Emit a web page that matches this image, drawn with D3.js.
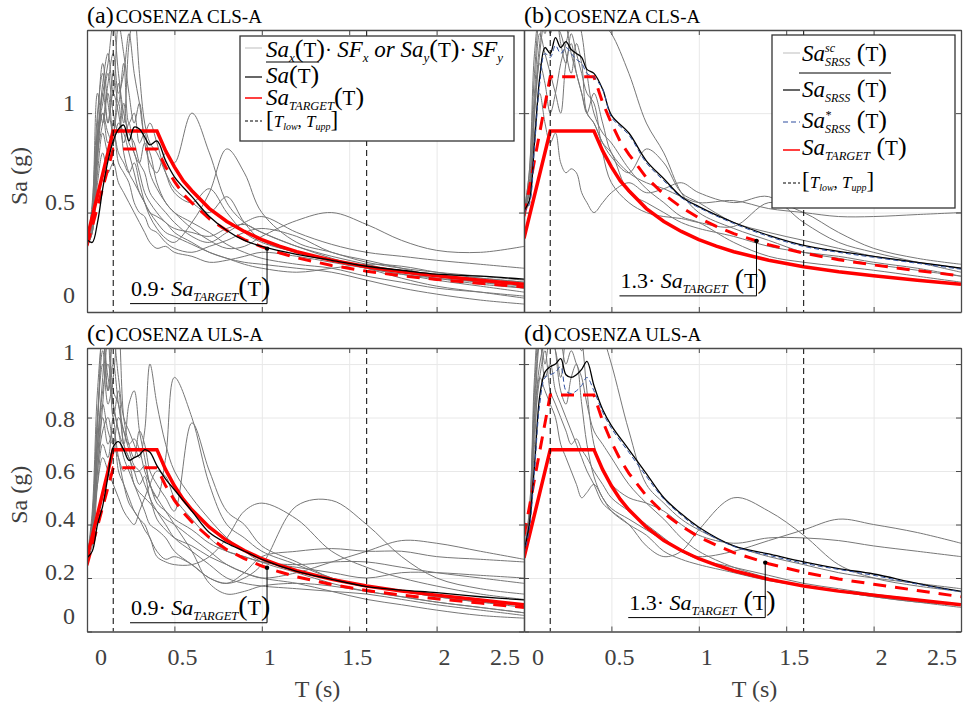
<!DOCTYPE html>
<html>
<head>
<meta charset="utf-8">
<script src="https://cdn.jsdelivr.net/npm/d3@7"></script>
<style>
body { margin: 0; background: #fff; }
text { font-family: "Liberation Serif", "Times New Roman", serif; white-space: pre; }
</style>
</head>
<body>
<script>
var width = 965, height = 707;

var periods = [0, .03, .06, .09, .12, .15, .18, .21, .24, .27, .30, .33, .36, .40, .45, .50,
  .60, .70, .80, .90, 1.0, 1.2, 1.4, 1.6, 1.8, 2.0, 2.25, 2.5];

// code target spectra (g)
var targetT   = [0, .15, .40, .45, .50, .55, .60, .70, .80, .90, 1.0, 1.1, 1.2, 1.4, 1.6, 1.8, 2.0, 2.25, 2.5];
var targetCLS = [.37, .91, .91, .81, .73, .66, .61, .52, .455, .405, .364, .331, .303, .26, .228, .202, .182, .16, .14];
var targetULS = [.275, .68, .68, .605, .545, .495, .455, .39, .34, .303, .272, .248, .227, .195, .17, .151, .136, .118, .10];

// period range [T_low, T_upp]
var tRange = [0.15, 1.6];

// (a) scaled single components, CLS
var greyA = [
  [.33,.40,.75,1.10,.95,1.20,1.05,1.25,.95,1.00,.85,.90,.70,.62,.55,.50,.45,.40,.34,.30,.27,.24,.22,.18,.15,.12,.10,.08],
  [.33,.45,.95,1.25,1.05,.90,1.15,.95,1.35,1.50,1.20,.95,.85,.80,.70,.62,.55,.50,.58,.45,.36,.30,.26,.22,.19,.16,.13,.10],
  [.33,.50,.85,1.15,1.30,1.10,1.45,1.30,1.10,.95,1.05,.85,.75,.70,.80,.75,1.00,.80,.55,.45,.40,.33,.28,.24,.20,.17,.14,.12],
  [.33,.42,.70,.90,.80,.95,.75,.70,.65,.55,.50,.48,.42,.40,.35,.32,.30,.33,.36,.40,.42,.38,.30,.26,.22,.18,.15,.12],
  [.33,.48,.90,1.05,1.20,1.00,.90,1.05,.85,.80,.70,.60,.55,.50,.45,.42,.40,.38,.42,.44,.40,.33,.27,.22,.17,.13,.10,.07],
  [.33,.55,1.00,1.20,.95,1.10,1.00,.85,.95,.80,.75,.85,.80,.65,.55,.50,.42,.36,.32,.33,.38,.46,.50,.44,.36,.31,.30,.33],
  [.33,.40,.80,.95,1.10,.90,1.05,.80,.70,.65,.60,.55,.50,.45,.40,.38,.34,.30,.27,.24,.22,.20,.22,.24,.23,.20,.17,.15],
  [.33,.45,.85,1.00,.85,.90,.80,.75,.70,.75,.65,.55,.48,.42,.37,.35,.45,.60,.82,.70,.50,.35,.30,.25,.22,.20,.18,.16],
  [.33,.52,1.10,.95,1.15,1.30,1.10,1.20,1.40,1.20,1.05,.90,.95,.85,.70,.60,.55,.62,.50,.40,.35,.30,.26,.22,.19,.17,.15,.13],
  [.33,.40,.65,.80,.70,.75,.65,.60,.55,.50,.45,.40,.35,.32,.33,.30,.28,.25,.26,.28,.30,.28,.25,.22,.20,.18,.17,.15],
  [.33,.50,.90,1.10,1.25,1.45,1.20,1.00,.90,.85,.75,.70,.60,.55,.50,.45,.38,.35,.40,.45,.48,.40,.34,.30,.28,.26,.24,.22],
  [.33,.44,.80,1.00,.90,.85,.95,.90,.80,.70,.60,.55,.50,.48,.45,.40,.35,.30,.27,.25,.24,.22,.20,.16,.12,.09,.06,.04]
];
var meanA = [.364,.35,.45,.62,.76,.86,.92,.94,.86,.93,.92,.88,.84,.86,.76,.68,.58,.48,.41,.36,.33,.29,.26,.23,.21,.19,.18,.165];

// (b) scaled SRSS spectra, CLS
var greyB = [
  [.50,.70,1.20,1.50,1.60,1.40,1.50,1.55,1.45,1.30,1.20,1.10,1.00,1.10,.95,.80,.70,.65,.62,.58,.55,.56,.52,.50,.48,.48,.49,.50],
  [.50,.60,1.00,1.30,1.50,1.60,1.55,1.50,1.60,1.70,1.65,1.60,1.55,1.50,1.45,1.40,1.20,.95,.80,.60,.50,.42,.36,.30,.27,.24,.21,.18],
  [.50,.65,1.10,1.40,1.30,1.20,1.10,1.00,1.25,1.35,1.20,1.10,1.00,.95,.85,.78,.70,.82,.75,.60,.55,.45,.40,.36,.32,.28,.25,.22],
  [.50,.55,.90,1.10,.95,.85,.90,.75,.70,.72,.70,.60,.55,.50,.55,.60,.65,.60,.62,.65,.60,.55,.58,.45,.35,.30,.25,.20],
  [.50,.70,1.30,1.50,1.40,1.55,1.45,1.40,1.30,1.20,1.35,1.25,1.00,.95,.85,.80,.60,.55,.50,.45,.42,.38,.33,.30,.28,.25,.22,.18],
  [.50,.60,1.00,1.25,1.15,1.00,1.10,1.25,1.35,1.45,1.50,1.40,1.20,1.00,.90,.85,.72,.62,.55,.48,.45,.35,.28,.25,.23,.21,.18,.15],
  [.50,.62,1.05,1.35,1.55,1.45,1.50,1.35,1.25,1.40,1.30,1.20,1.10,1.05,.80,.65,.55,.50,.48,.47,.45,.43,.55,.50,.40,.32,.27,.24]
];
var meanB = [.51,.56,.85,1.18,1.33,1.30,1.38,1.33,1.36,1.32,1.30,1.28,1.22,1.20,1.12,.99,.90,.76,.67,.58,.53,.45,.385,.335,.305,.28,.25,.22];
var starB = [.50,.54,.83,1.15,1.30,1.28,1.34,1.30,1.33,1.30,1.27,1.25,1.20,1.18,1.12,.98,.89,.75,.66,.575,.525,.445,.38,.33,.30,.275,.245,.215];

// (c) scaled single components, ULS
var greyC = [
  [.27,.35,.60,.85,1.10,.80,.90,.70,.65,.60,.55,.58,.50,.45,.40,.35,.30,.25,.20,.18,.17,.16,.15,.14,.12,.10,.08,.06],
  [.27,.40,.75,1.15,.90,1.10,.95,.80,.75,.70,.65,.75,1.00,.85,.70,.60,.50,.42,.35,.30,.26,.22,.18,.15,.13,.11,.09,.07],
  [.27,.32,.55,.70,.65,.80,.60,.55,.50,.45,.42,.40,.35,.30,.27,.28,.25,.20,.18,.22,.28,.30,.31,.30,.30,.28,.27,.26],
  [.27,.38,.70,.95,1.20,.90,.85,.70,.65,.60,.60,.62,.55,.50,.65,.95,.80,.55,.40,.35,.30,.25,.20,.17,.15,.13,.11,.09],
  [.27,.42,.80,1.00,.85,.95,1.15,.80,.70,.65,.75,.70,.60,.55,.50,.45,.78,.60,.45,.40,.32,.26,.20,.17,.15,.13,.11,.10],
  [.27,.35,.65,.80,.70,.75,.65,.55,.48,.45,.42,.38,.35,.28,.26,.25,.25,.28,.35,.45,.48,.42,.30,.24,.20,.17,.14,.12],
  [.27,.40,.70,.90,1.00,.85,.75,.65,.60,.55,.50,.45,.40,.38,.35,.30,.25,.20,.18,.20,.25,.47,.49,.40,.28,.20,.16,.14],
  [.27,.36,.60,.75,.80,.70,.65,.60,.62,.55,.52,.50,.48,.45,.42,.40,.35,.30,.25,.22,.20,.22,.26,.30,.34,.33,.30,.27],
  [.27,.45,.90,1.10,.95,.85,.75,.70,.85,.90,.75,.65,.55,.50,.45,.40,.30,.18,.14,.15,.17,.18,.17,.15,.13,.11,.09,.07],
  [.27,.38,.65,.85,.75,.70,.80,.75,.70,.72,.68,.60,.55,.48,.45,.42,.38,.33,.30,.28,.26,.25,.26,.26,.24,.22,.20,.18],
  [.27,.42,.80,1.05,.90,1.00,.85,.75,.68,.62,.60,.55,.50,.42,.38,.35,.32,.28,.25,.22,.20,.18,.15,.12,.10,.08,.06,.05],
  [.27,.36,.55,.65,.60,.55,.50,.45,.42,.40,.45,.50,.55,.60,.58,.50,.42,.35,.30,.28,.26,.24,.22,.20,.22,.22,.21,.20]
];
var meanC = [.275,.30,.40,.47,.58,.69,.71,.68,.64,.65,.66,.68,.67,.62,.57,.53,.45,.37,.33,.30,.27,.225,.195,.168,.155,.145,.13,.118];

// (d) scaled SRSS spectra, ULS
var greyD = [
  [.30,.40,.80,1.10,1.20,1.15,1.10,1.20,1.25,1.15,1.10,1.05,1.10,1.15,1.10,1.00,.75,.55,.48,.42,.38,.32,.28,.25,.22,.20,.18,.16],
  [.30,.45,.85,1.10,.95,1.00,.90,.85,.80,.75,.70,.65,.60,.55,.48,.45,.40,.32,.28,.30,.38,.50,.45,.36,.25,.20,.17,.15],
  [.30,.40,.75,.95,1.05,.90,.85,.80,.75,.70,.72,.68,.65,.60,.55,.50,.45,.40,.35,.30,.28,.30,.34,.38,.42,.40,.37,.33],
  [.30,.42,.90,1.15,1.00,1.10,1.05,.95,1.10,1.15,1.20,1.10,.90,.70,.60,.55,.50,.48,.45,.40,.36,.33,.35,.35,.34,.32,.30,.28],
  [.30,.38,.70,.95,.90,.85,.80,.70,.65,.60,.55,.50,.52,.55,.50,.45,.40,.36,.30,.27,.25,.22,.19,.17,.15,.13,.11,.09],
  [.30,.44,.95,1.20,1.10,1.15,1.20,1.10,1.00,1.05,1.00,.95,.85,.75,.70,.65,.55,.48,.42,.35,.30,.24,.20,.17,.15,.13,.11,.10],
  [.30,.40,.80,1.00,1.10,1.20,1.05,.90,.85,.95,1.00,.85,.70,.58,.50,.46,.42,.38,.34,.30,.27,.24,.21,.18,.16,.14,.12,.10]
];
var meanD = [.30,.40,.62,.88,.97,.99,1.0,1.02,.96,.95,.96,.98,1.01,.92,.83,.77,.68,.59,.50,.44,.39,.32,.29,.26,.235,.215,.18,.15];
var starD = [.29,.38,.60,.85,.95,.96,.97,.99,.90,.89,.90,.92,.95,.90,.82,.76,.67,.58,.495,.435,.385,.318,.285,.255,.232,.21,.177,.148];

var xTicks = [0, 0.5, 1, 1.5, 2, 2.5];
var yTicksTop = [0, 0.5, 1];
var yTicksBottom = [0, 0.2, 0.4, 0.6, 0.8, 1];

var panels = [
  { key: 'a', title: 'COSENZA CLS-A', grey: greyA, mean: meanA, star: null, target: targetCLS, factor: 0.9, callT: 1.03,
    x0: 87, x1: 524, y0: 30, y1: 312, yMax: 1.418, yTicks: yTicksTop, left: true, bottom: false },
  { key: 'b', title: 'COSENZA CLS-A', grey: greyB, mean: meanB, star: starB, target: targetCLS, factor: 1.3, callT: 1.33,
    x0: 524, x1: 961, y0: 30, y1: 312, yMax: 1.418, yTicks: yTicksTop, left: false, bottom: false },
  { key: 'c', title: 'COSENZA ULS-A', grey: greyC, mean: meanC, star: null, target: targetULS, factor: 0.9, callT: 1.03,
    x0: 87, x1: 524, y0: 348, y1: 631.5, yMax: 1.06, yTicks: yTicksBottom, left: true, bottom: true },
  { key: 'd', title: 'COSENZA ULS-A', grey: greyD, mean: meanD, star: starD, target: targetULS, factor: 1.3, callT: 1.38,
    x0: 524, x1: 961, y0: 348, y1: 631.5, yMax: 1.06, yTicks: yTicksBottom, left: false, bottom: true }
];

// small nudges of tick labels, as placed in the original figure
var yLabelShift = { top: { 0: -9, 0.5: -3, 1: -2 }, bottom: { 0: -8, 0.2: 2, 0.4: 2, 0.6: 8, 0.8: 9, 1: -4 } };
function xLabelShift(v) { return v === 0 ? 14 : (v === 2.5 ? -19 : 8); }

var axisColor = '#4a4a4a', labelColor = '#404040';

var svg = d3.select('body').append('svg')
    .attr('width', width)
    .attr('height', height)
    .attr('font-family', '"Liberation Serif", "Times New Roman", serif');

// text made of pieces: [string, italic, size, baseline shift, 'back' to stack under previous piece]
function richText(sel, x, y, segs) {
  var t = sel.append('text').attr('x', x).attr('y', y).attr('fill', '#000');
  var cur = 0, prev = null;
  segs.forEach(function(s) {
    var shift = s[3] || 0;
    var ts = t.append('tspan')
      .attr('dy', shift - cur)
      .style('font-style', s[1] ? 'italic' : 'normal')
      .style('font-size', s[2] + 'px')
      .text(s[0]);
    if (s[4] === 'back' && prev) ts.attr('dx', -prev.node().getComputedTextLength());
    cur = shift;
    prev = ts;
  });
  return t;
}

var defs = svg.append('defs');

panels.forEach(function(p) {
  var x = d3.scaleLinear().domain([0, 2.5]).range([p.x0, p.x1]);
  var y = d3.scaleLinear().domain([0, p.yMax]).range([p.y1, p.y0]);
  var g = svg.append('g').attr('class', 'panel-' + p.key);

  // light grid
  g.append('g')
    .attr('class', 'grid')
    .attr('transform', 'translate(0,' + p.y1 + ')')
    .call(d3.axisBottom(x).tickValues(xTicks).tickSize(-(p.y1 - p.y0)).tickFormat(''));
  g.append('g')
    .attr('class', 'grid')
    .attr('transform', 'translate(' + p.x0 + ',0)')
    .call(d3.axisLeft(y).tickValues(p.yTicks).tickSize(-(p.x1 - p.x0)).tickFormat(''));
  g.selectAll('.grid .domain').remove();
  g.selectAll('.grid line').attr('stroke', '#e8e8e8');

  defs.append('clipPath').attr('id', 'clip-' + p.key)
    .append('rect')
      .attr('x', p.x0).attr('y', p.y0)
      .attr('width', p.x1 - p.x0).attr('height', p.y1 - p.y0);

  var plot = g.append('g').attr('clip-path', 'url(#clip-' + p.key + ')');

  var smooth = d3.line()
    .x(function(d) { return x(d[0]); })
    .y(function(d) { return y(d[1]); })
    .curve(d3.curveCatmullRom.alpha(0.5));
  var straight = d3.line()
    .x(function(d) { return x(d[0]); })
    .y(function(d) { return y(d[1]); });

  // individual records
  plot.selectAll('.rec')
    .data(p.grey)
    .enter().append('path')
      .attr('class', 'rec')
      .attr('d', function(s) { return smooth(d3.zip(periods, s)); })
      .attr('fill', 'none')
      .attr('stroke', '#777')
      .attr('stroke-width', 1);

  // target and scaled target
  var tgt = d3.zip(targetT, p.target);
  plot.append('path')
    .attr('d', straight(tgt.map(function(d) { return [d[0], d[1] * p.factor]; })))
    .attr('fill', 'none').attr('stroke', '#ff0000').attr('stroke-width', 3)
    .attr('stroke-dasharray', '13,9');
  plot.append('path')
    .attr('d', straight(tgt))
    .attr('fill', 'none').attr('stroke', '#ff0000').attr('stroke-width', 3.5);

  // mean spectrum
  plot.append('path')
    .attr('d', smooth(d3.zip(periods, p.mean)))
    .attr('fill', 'none').attr('stroke', '#000').attr('stroke-width', 1.3);
  if (p.star) {
    plot.append('path')
      .attr('d', smooth(d3.zip(periods, p.star)))
      .attr('fill', 'none').attr('stroke', '#2f4f9f').attr('stroke-width', 1)
      .attr('stroke-dasharray', '5,3');
  }

  // period range
  g.selectAll('.trange')
    .data(tRange)
    .enter().append('line')
      .attr('class', 'trange')
      .attr('x1', function(d) { return x(d); }).attr('x2', function(d) { return x(d); })
      .attr('y1', p.y0).attr('y2', p.y1)
      .attr('stroke', '#000').attr('stroke-width', 1)
      .attr('stroke-dasharray', '6,4');

  // box and inward ticks on every side
  var box = g.append('g').attr('class', 'box');
  box.append('g').attr('transform', 'translate(0,' + p.y1 + ')')
    .call(d3.axisBottom(x).tickValues(xTicks).tickSize(-5).tickSizeOuter(0).tickFormat(''));
  box.append('g').attr('transform', 'translate(0,' + p.y0 + ')')
    .call(d3.axisTop(x).tickValues(xTicks).tickSize(-5).tickSizeOuter(0).tickFormat(''));
  box.append('g').attr('transform', 'translate(' + p.x0 + ',0)')
    .call(d3.axisLeft(y).tickValues(p.yTicks).tickSize(-5).tickSizeOuter(0).tickFormat(''));
  box.append('g').attr('transform', 'translate(' + p.x1 + ',0)')
    .call(d3.axisRight(y).tickValues(p.yTicks).tickSize(-5).tickSizeOuter(0).tickFormat(''));
  box.selectAll('.domain, line').attr('stroke', axisColor);
  box.selectAll('.domain').attr('stroke-width', 1.3);

  // callout to the scaled target
  var tgtScale = d3.scaleLinear().domain(targetT).range(p.target);
  var cx = x(p.callT), cy = y(tgtScale(p.callT) * p.factor);
  g.append('path')
    .attr('d', 'M' + (cx - 137) + ',' + (cy + 55) + 'H' + cx + 'V' + cy)
    .attr('fill', 'none').attr('stroke', '#000').attr('stroke-width', 1);
  g.append('circle').attr('cx', cx).attr('cy', cy).attr('r', 2.2).attr('fill', '#000');
  var small = p.factor === 0.9;
  richText(g, cx - 136, cy + 47, [
    [small ? '0.9· ' : '1.3·', 0, 22], [(small ? '' : ' ') + 'Sa', 1, 22], ['TARGET', 1, 12.5, 5],
    [small ? '(' : ' (', 0, 28], ['T', 0, 22], [')', 0, 28]
  ]);

  // title
  var tt = g.append('text').attr('x', p.x0).attr('y', p.y0 - 7).attr('fill', '#000');
  tt.append('tspan').style('font-size', '24px').text('(' + p.key + ')');
  tt.append('tspan').attr('dx', 2).style('font-size', '19px').text(p.title);

  // tick labels
  if (p.left) {
    var shifts = p.bottom ? yLabelShift.bottom : yLabelShift.top;
    g.selectAll('.ylab')
      .data(p.yTicks)
      .enter().append('text')
        .attr('class', 'ylab')
        .attr('x', 75)
        .attr('y', function(d) { return y(d) + shifts[d]; })
        .attr('text-anchor', 'end')
        .attr('fill', labelColor)
        .style('font-size', '24px')
        .text(function(d) { return d; });
    g.append('text')
      .attr('transform', 'translate(27,' + ((p.y0 + p.y1) / 2 + 5) + ') rotate(-90)')
      .attr('text-anchor', 'middle')
      .attr('fill', labelColor)
      .style('font-size', '24px')
      .text('Sa (g)');
  }
  if (p.bottom) {
    g.selectAll('.xlab')
      .data(xTicks)
      .enter().append('text')
        .attr('class', 'xlab')
        .attr('x', function(d) { return x(d) + xLabelShift(d); })
        .attr('y', 665)
        .attr('text-anchor', 'middle')
        .attr('fill', labelColor)
        .style('font-size', '24px')
        .text(function(d) { return d; });
    g.append('text')
      .attr('x', (p.x0 + p.x1) / 2 + 12)
      .attr('y', 697)
      .attr('text-anchor', 'middle')
      .attr('fill', labelColor)
      .style('font-size', '24px')
      .text('T (s)');
  }
});

// legend of panel (a)
var legA = svg.append('g');
legA.append('rect').attr('x', 240).attr('y', 36).attr('width', 274).attr('height', 105)
  .attr('fill', '#fff').attr('stroke', '#333').attr('stroke-width', 1.3);
var rowsA = [
  { y: 48, base: 57, color: '#c8c8c8', dash: null, segs: [['Sa',1,23],['x',1,13,5],['(',0,26],['T',0,21],[')',0,26],['· ',0,21],['SF',1,23],['x',1,13,5],[' or ',1,23],['Sa',1,23],['y',1,13,5],['(',0,26],['T',0,21],[')',0,26],['· ',0,21],['SF',1,23],['y',1,13,5]] },
  { y: 77, base: 83, color: '#000', dash: null, over: true, segs: [['Sa',1,23],['(',0,26],['T',0,21],[')',0,26]] },
  { y: 98, base: 105, color: '#ff0000', dash: null, segs: [['Sa',1,23],['TARGET',1,12.5,5],['(',0,26],['T',0,21],[')',0,26]] },
  { y: 121, base: 127, color: '#000', dash: '3,2', segs: [['[',0,23],['T',1,17],['low',1,10,3],[', ',0,17],['T',1,17],['upp',1,10,3],[']',0,23]] }
];
rowsA.forEach(function(r) {
  legA.append('line').attr('x1', 245).attr('x2', 262).attr('y1', r.y).attr('y2', r.y)
    .attr('stroke', r.color).attr('stroke-width', r.color === '#ff0000' ? 1.5 : 1.2)
    .attr('stroke-dasharray', r.dash);
  var t = richText(legA, 266, r.base, r.segs);
  if (r.over) {
    var bb = t.node().getBBox();
    legA.append('line').attr('x1', bb.x).attr('x2', bb.x + bb.width).attr('y1', 62).attr('y2', 62)
      .attr('stroke', '#000').attr('stroke-width', 1);
  }
});

// legend of panel (b)
var legB = svg.append('g');
legB.append('rect').attr('x', 772).attr('y', 35).attr('width', 183).attr('height', 173)
  .attr('fill', '#fff').attr('stroke', '#333').attr('stroke-width', 1.3);
var rowsB = [
  { y: 53, base: 61, color: '#c8c8c8', dash: null, segs: [['Sa',1,23],['sc',1,12,-9],['SRSS',1,12,5,'back'],[' (',0,26],['T',0,21],[')',0,26]] },
  { y: 90, base: 97, color: '#000', dash: null, over: true, segs: [['Sa',1,23],['SRSS',1,12,5],[' (',0,26],['T',0,21],[')',0,26]] },
  { y: 122, base: 128, color: '#2f4f9f', dash: '5,3', segs: [['Sa',1,23],['*',1,12,-9],['SRSS',1,12,5,'back'],[' (',0,26],['T',0,21],[')',0,26]] },
  { y: 150, base: 155, color: '#ff0000', dash: null, segs: [['Sa',1,23],['TARGET',1,12.5,5],[' (',0,26],['T',0,21],[')',0,26]] },
  { y: 183, base: 188, color: '#000', dash: '3,2', segs: [['[',0,23],['T',1,17],['low',1,10,3],[', ',0,17],['T',1,17],['upp',1,10,3],[']',0,23]] }
];
rowsB.forEach(function(r) {
  legB.append('line').attr('x1', 783).attr('x2', 800).attr('y1', r.y).attr('y2', r.y)
    .attr('stroke', r.color).attr('stroke-width', r.color === '#ff0000' ? 1.5 : 1.2)
    .attr('stroke-dasharray', r.dash);
  var t = richText(legB, 802, r.base, r.segs);
  if (r.over) {
    var bb = t.node().getBBox();
    legB.append('line').attr('x1', 799).attr('x2', bb.x + bb.width + 4).attr('y1', 73).attr('y2', 73)
      .attr('stroke', '#000').attr('stroke-width', 1);
  }
});
</script>
</body>
</html>
